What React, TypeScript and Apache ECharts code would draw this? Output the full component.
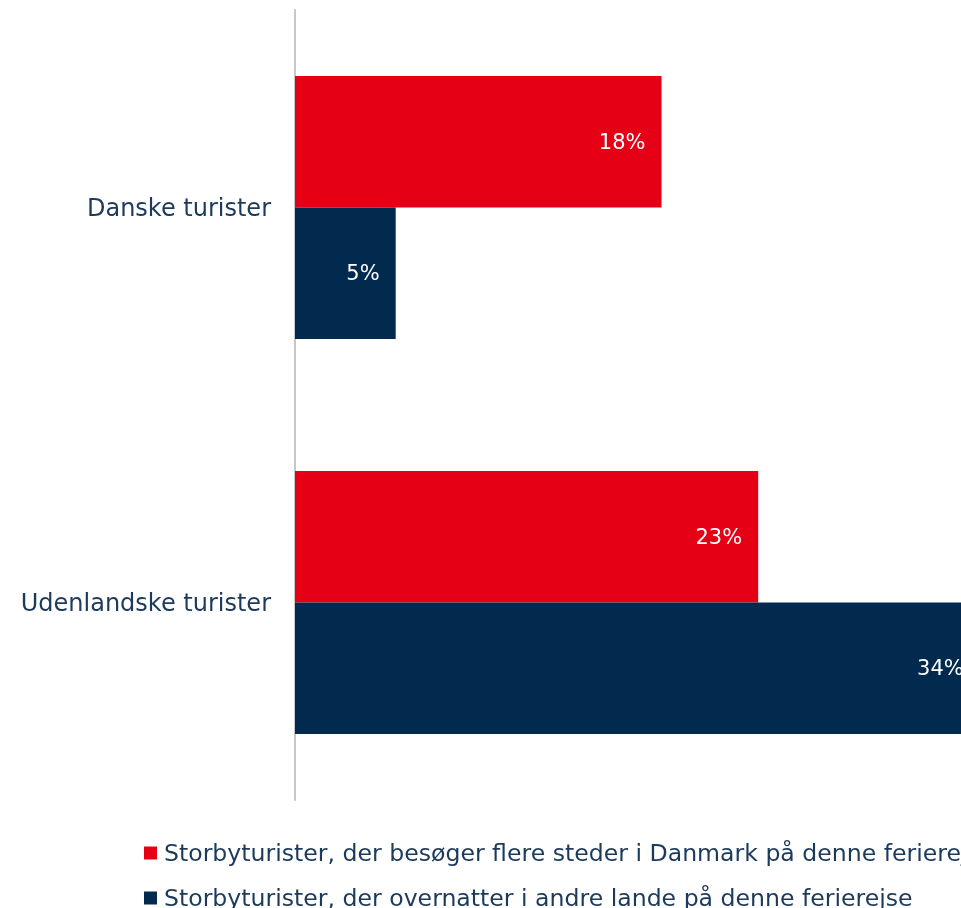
import React, { useEffect, useRef } from "react";
import * as echarts from "echarts";

const categories = ["Danske turister", "Udenlandske turister"];
const seriesNames = [
  "Storbyturister, der besøger flere steder i Danmark på denne ferierejse",
  "Storbyturister, der overnatter i andre lande på denne ferierejse",
];
const visitsDenmark = [18.2, 23];
const otherCountries = [5, 34];

const RED = "#e50015";
const NAVY = "#022a4f";
const TEXT = "#1c3a5c";
const FONT = "'DejaVu Sans', sans-serif";

export default function App() {
  const ref = useRef<HTMLDivElement>(null);
  useEffect(() => {
    document.documentElement.style.overflow = "hidden";
    document.body.style.overflow = "hidden";
    const chart = echarts.init(ref.current!, undefined, { renderer: "svg" });
    const label = {
      show: true,
      position: "insideRight" as const,
      distance: 16,
      color: "#ffffff",
      fontSize: 21,
      fontFamily: FONT,
      formatter: (p: any) => `${Math.round(p.value)}%`,
    };
    const legendCommon = {
      orient: "horizontal" as const,
      left: 144,
      padding: 0,
      itemWidth: 13,
      itemHeight: 13,
      icon: "rect",
      textStyle: { color: TEXT, fontSize: 23.6, fontFamily: FONT, padding: [0, 0, 0, 2] },
    };
    chart.setOption({
      animation: false,
      textStyle: { fontFamily: FONT },
      grid: { left: 295, right: 80, top: 10, bottom: 108 },
      xAxis: {
        type: "value",
        min: 0,
        max: 36,
        show: false,
        splitLine: { show: false },
      },
      yAxis: {
        type: "category",
        data: categories,
        inverse: true,
        axisTick: { show: false },
        axisLine: { show: true, lineStyle: { color: "#c6c6cb", width: 2 } },
        axisLabel: { color: TEXT, fontSize: 24, fontFamily: FONT, margin: 24 },
      },
      legend: [
        { ...legendCommon, top: 841, data: [seriesNames[0]] },
        { ...legendCommon, top: 886, data: [seriesNames[1]] },
      ],
      series: [
        {
          name: seriesNames[0],
          type: "bar",
          data: visitsDenmark,
          itemStyle: { color: RED },
          barGap: "0%",
          barCategoryGap: "33.4%",
          label,
        },
        {
          name: seriesNames[1],
          type: "bar",
          data: otherCountries,
          itemStyle: { color: NAVY },
          barGap: "0%",
          barCategoryGap: "33.4%",
          label,
        },
      ],
    });
    return () => chart.dispose();
  }, []);
  return (
    <div
      ref={ref}
      style={{ position: "fixed", left: 0, top: 0, width: 1100, height: 908 }}
    />
  );
}
